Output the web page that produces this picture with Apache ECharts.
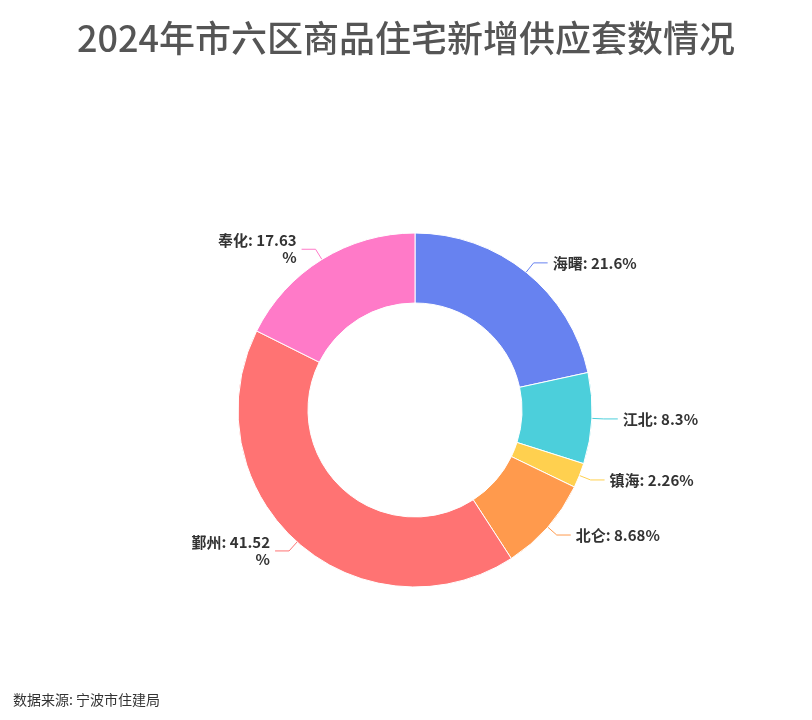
<!DOCTYPE html>
<html><head><meta charset="utf-8">
<script src="https://cdn.jsdelivr.net/npm/echarts@6/dist/echarts.min.js"></script>
<style>html,body{margin:0;padding:0;background:#fff}#c{width:812px;height:720px}</style>
</head><body><div id="c"></div>
<script>
const categories = ['海曙','江北','镇海','北仑','鄞州','奉化'];
const values = [21.6, 8.3, 2.26, 8.68, 41.52, 17.63];
const colors = ['#6782f0','#4ccfdb','#ffd04f','#ff9a4d','#ff7373','#ff7ac8'];
const chart = echarts.init(document.getElementById('c'));
chart.setOption({
  title: [{text:'2024年市六区商品住宅新增供应套数情况', left:'center', top:15,
    textStyle:{fontSize:36, fontWeight:500, color:'#555', fontFamily:'Noto Sans CJK SC'}},
    {text:'数据来源: 宁波市住建局', left:8, top:688, textStyle:{fontSize:14, fontWeight:'normal', color:'#333', fontFamily:'Noto Sans CJK SC'}}],
  series:[{type:'pie', center:[415,410], radius:[107,177], startAngle:90,
    itemStyle:{borderColor:'#fff', borderWidth:1},
    label:{formatter:'{b}: {c}%', fontSize:15, fontWeight:'bold', color:'#333', width:86, overflow:'breakAll', lineHeight:17, fontFamily:'Noto Sans CJK SC'},
    labelLine:{length:12, length2:14},
    data: categories.map((n,i)=>({name:n, value:values[i], itemStyle:{color:colors[i]}}))}]
});
</script></body></html>
